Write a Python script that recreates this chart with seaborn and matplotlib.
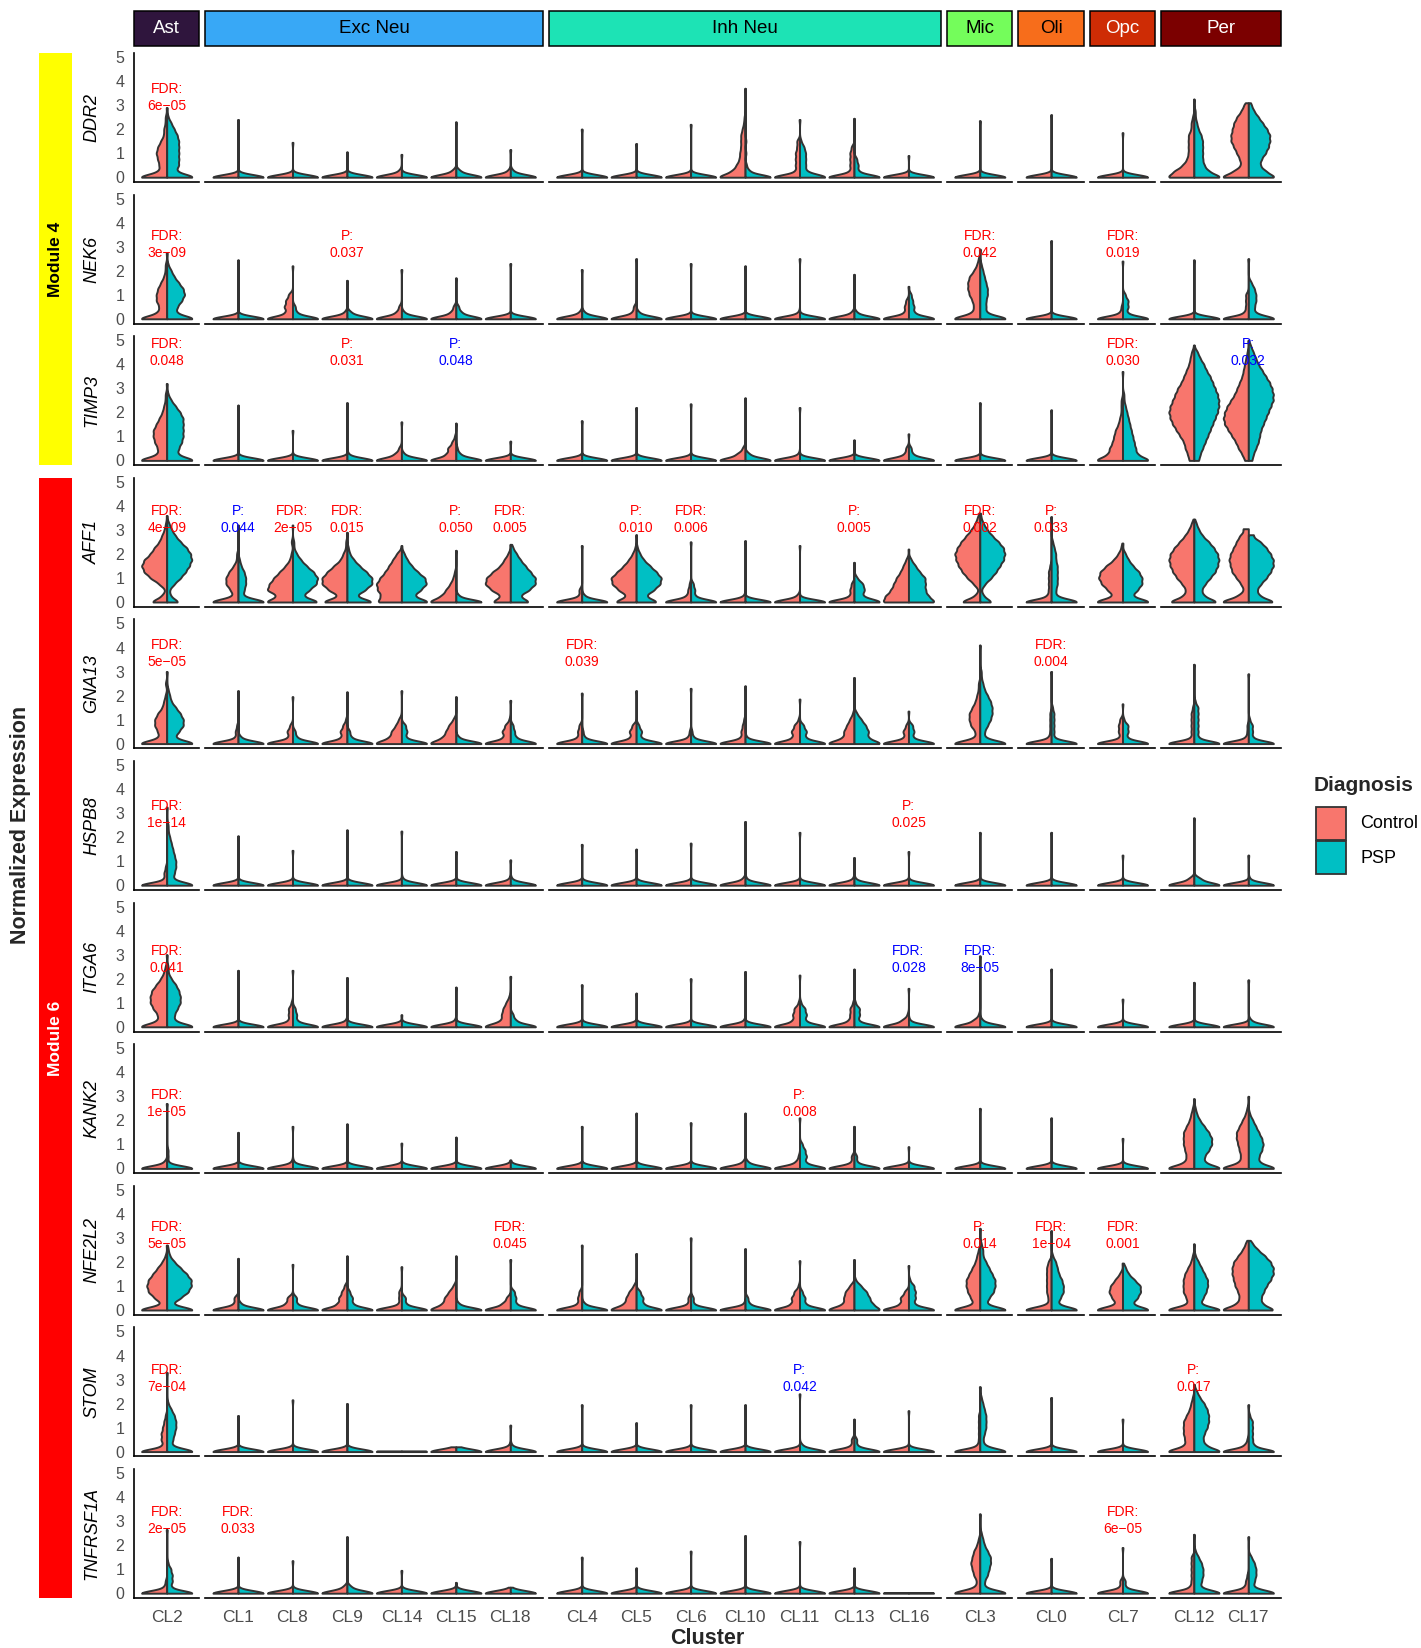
import numpy as np
import pandas as pd
import matplotlib
matplotlib.use("Agg")
import matplotlib.pyplot as plt
from matplotlib.patches import Rectangle
import seaborn as sns

sns.set_style("white")
plt.rcParams["font.family"] = ["Liberation Sans", "DejaVu Sans"]

W, H = 1421, 1648

# ---------------- data ----------------
CELLTYPES = ["Ast", "Exc Neu", "Inh Neu", "Mic", "Oli", "Opc", "Per"]
CELLTYPE_CLUSTERS = [["CL2"], ["CL1", "CL8", "CL9", "CL14", "CL15", "CL18"],
                     ["CL4", "CL5", "CL6", "CL10", "CL11", "CL13", "CL16"],
                     ["CL3"], ["CL0"], ["CL7"], ["CL12", "CL17"]]
CELLTYPE_COLORS = ["#2F153D", "#38A8F6", "#1DE3B5", "#74FD5B", "#F76D1B", "#CE2C05", "#7B0000"]
CELLTYPE_TEXT = ["white", "black", "black", "black", "black", "white", "white"]
CLUSTERS = [c for grp in CELLTYPE_CLUSTERS for c in grp]
GENES = ["DDR2", "NEK6", "TIMP3", "AFF1", "GNA13", "HSPB8", "ITGA6", "KANK2", "NFE2L2", "STOM", "TNFRSF1A"]
DIAGNOSES = ["Control", "PSP"]
DIAG_COLORS = ["#F8766D", "#00BFC4"]
MODULES = ["Module 4", "Module 6"]
MODULE_GENES = [3, 8]
MODULE_COLORS = ["#FFFF00", "#FF0000"]
MODULE_TEXT = ["black", "white"]

# Expression samples per violin ("value*count"), clusters in CLUSTERS order
DDR2_CONTROL = [
    "0*60 .25*15 .5*15 .75*18 1*21 1.25*18 1.5*12 1.75*6 2*6 2.25*3 2.5*3 2.9",
    "0*60 2.4", "0*60 1.45", "0*60 1.05", "0*60 .25*6 .95", "0*60 .25*9 2.3", "0*60 .25*6 1.15",
    "0*60 2.0", "0*60 1.4", "0*60 2.2",
    "0*60 .25*27 .5*18 .75*12 1*11 1.25*9 1.5*9 1.75*9 2*6 2.25*3 2.5*2 3.7",
    "0*60 .25*9 .5*9 .75*9 1*9 1.25*6 1.5*6 2.4",
    "0*60 .25*9 .5*9 .75*9 1*9 1.25*6 2.45",
    "0*60 .9", "0*60 2.35", "0*60 2.6", "0*60 1.85",
    "0*60 .25*42 .5*24 .75*15 1*12 1.25*12 1.5*12 1.75*12 2*6 2.25*6 2.5*3 3.25",
    "0*60 .25*30 .5*15 .75*18 1*24 1.25*30 1.5*36 1.75*36 2*33 2.25*30 2.5*24 2.75*15 3*9 3.1",
]
DDR2_PSP = [
    "0*60 .25*18 .5*24 .75*24 1*24 1.25*24 1.5*24 1.75*21 2*15 2.25*9 2.5*3 2.9",
    "0*60 2.4", "0*60 1.45", "0*60 1.05", "0*60 .95", "0*60 .25*9 2.3", "0*60 .25*6 1.15",
    "0*60 2.0", "0*60 1.4", "0*60 2.2",
    "0*60 .25*9 .5*3 1*2 1.5*2 3.7",
    "0*60 .25*12 .5*12 .75*12 1*12 1.25*9 1.5*3 2.4",
    "0*60 .25*9 .5*9 .75*6 2.45",
    "0*60 .9", "0*60 2.35", "0*60 2.6", "0*60 1.85",
    "0*60 .25*30 .5*21 .75*18 1*18 1.25*18 1.5*18 1.75*15 2*9 2.25*6 2.5*3 2.75*3 3.25",
    "0*60 .25*36 .5*24 .75*27 1*36 1.25*42 1.5*45 1.75*45 2*39 2.25*30 2.5*21 2.75*12 3*6 3.1",
]
NEK6_CONTROL = [
    "0*60 .25*18 .5*15 .75*21 1*21 1.25*18 1.5*12 1.75*6 2*3 2.25*3 2.75",
    "0*60 2.45", "0*60 .25*15 .5*18 .75*15 1*9 2.2", "0*60 .25*6 1.6", "0*60 .25*12 .5*6 2.05",
    "0*60 .25*12 .5*6 1.7", "0*60 2.3",
    "0*60 .25*6 2.05", "0*60 .25*9 .5*6 2.5", "0*60 2.3", "0*60 2.2", "0*60 .25*3 2.5", "0*60 .25*6 1.85",
    "0*60 .25*9 .5*9 .75*6 1.35",
    "0*60 .25*15 .5*12 .75*15 1*21 1.25*24 1.5*24 1.75*21 2*12 2.25*6 2.5*3 2.9",
    "0*60 3.25", "0*60 .25*6 .5*3 2.4", "0*60 2.45", "0*60 .25*9 .5*6 .75*6 1*6 2.5",
]
NEK6_PSP = [
    "0*60 .25*18 .5*21 .75*30 1*36 1.25*33 1.5*24 1.75*15 2*9 2.25*3 2.75",
    "0*60 2.45", "0*60 .25*9 .5*6 2.2", "0*60 .25*9 1.6", "0*60 .25*6 2.05",
    "0*60 .25*12 .5*6 1.7", "0*60 2.3",
    "0*60 .25*6 2.05", "0*60 .25*6 2.5", "0*60 2.3", "0*60 2.2", "0*60 2.5", "0*60 .25*6 1.85",
    "0*60 .25*12 .5*12 .75*9 1*6 1.35",
    "0*60 .25*12 .5*12 .75*12 1*15 1.25*15 1.5*12 1.75*9 2*6 2.25*3 2.9",
    "0*60 3.25", "0*60 .25*9 .5*12 .75*12 1*6 2.4", "0*60 2.45", "0*60 .25*12 .5*12 .75*15 1*15 1.25*12 1.5*6 2.5",
]
TIMP3_CONTROL = [
    "0*60 .25*18 .5*18 .75*24 1*27 1.25*27 1.5*21 1.75*15 2*9 2.25*6 2.5*3 2.75*3 3.2",
    "0*60 2.3", "0*60 1.25", "0*60 2.4", "0*60 .25*15 .5*6 1.6", "0*60 .25*21 .5*18 .75*9 1*3 1.55", "0*60 .8",
    "0*60 1.65", "0*60 2.2", "0*60 2.35", "0*60 .25*18 .5*6 2.6", "0*60 .25*3 2.2", "0*60 .85",
    "0*60 .25*9 .5*6 1.1",
    "0*60 2.4", "0*60 2.1",
    "0*60 .25*30 .5*27 .75*21 1*18 1.25*15 1.5*9 1.75*6 2*3 2.25*3 2.5*3 3.7",
    "0*12 .25*15 .5*21 .75*24 1*33 1.25*42 1.5*51 1.75*57 2*60 2.25*57 2.5*51 2.75*45 3*39 3.25*30 3.5*24 3.75*18 4*12 4.25*9 4.5*6 4.8",
    "0*9 .25*15 .5*24 .75*30 1*39 1.25*48 1.5*57 1.75*60 2*57 2.25*51 2.5*42 2.75*33 3*27 3.25*21 3.5*15 3.75*12 4*9 4.25*6 4.5*3 5.0",
]
TIMP3_PSP = [
    "0*60 .25*21 .5*24 .75*30 1*33 1.25*33 1.5*33 1.75*33 2*27 2.25*18 2.5*9 2.75*3 3.2",
    "0*60 2.3", "0*60 1.25", "0*60 .25*3 2.4", "0*60 .25*6 1.6", "0*60 .25*9 .5*3 1.55", "0*60 .8",
    "0*60 1.65", "0*60 2.2", "0*60 2.35", "0*60 .25*9 2.6", "0*60 2.2", "0*60 .85",
    "0*60 .25*9 .5*6 1.1",
    "0*60 2.4", "0*60 2.1",
    "0*60 .25*30 .5*27 .75*24 1*21 1.25*18 1.5*15 1.75*12 2*9 2.25*6 2.5*3 2.75*3 3.7",
    "0*12 .25*15 .5*21 .75*27 1*33 1.25*39 1.5*45 1.75*51 2*57 2.25*60 2.5*60 2.75*57 3*51 3.25*45 3.5*39 3.75*30 4*24 4.25*15 4.5*9 4.8",
    "0*9 .25*12 .5*18 .75*24 1*27 1.25*30 1.5*36 1.75*42 2*48 2.25*54 2.5*60 2.75*60 3*57 3.25*51 3.5*42 3.75*33 4*24 4.25*18 4.5*12 4.75*6 5.0",
]
AFF1_CONTROL = [
    "0*39 .25*12 .5*3 .75*18 1*39 1.25*54 1.5*60 1.75*54 2*39 2.25*30 2.5*18 2.75*12 3*6 3.25*3 3.6",
    "0*60 .25*9 .5*15 .75*24 1*24 1.25*18 1.5*9 1.75*3 2*3 3.2",
    "0*60 .25*30 .5*54 .75*48 1*39 1.25*27 1.5*15 1.75*6 2*3 2.5*3 3.2",
    "0*60 .25*18 .5*42 .75*57 1*57 1.25*45 1.5*30 1.75*15 2*9 2.25*3 2.5*3 2.9",
    "0*60 .25*48 .5*57 .75*60 1*51 1.25*39 1.5*30 1.75*21 2*12 2.35",
    "0*60 .25*30 .5*21 .75*12 1*6 1.25*3 2.15",
    "0*45 .25*21 .5*45 .75*60 1*57 1.25*42 1.5*24 1.75*15 2*6 2.4",
    "0*60 .25*6 .5*6 2.35",
    "0*54 .25*21 .5*42 .75*57 1*60 1.25*45 1.5*30 1.75*18 2*9 2.25*3 2.8",
    "0*60 .25*9 .5*6 .75*3 2.5",
    "0*60 .25*3 2.55", "0*60 .25*6 2.35", "0*60 .25*9 .5*9 .75*6 1.65",
    "0*60 .25*51 .5*39 .75*33 1*27 1.25*18 1.5*12 1.75*6 2.2",
    "0*48 .25*12 .5*3 .75*15 1*30 1.25*42 1.5*51 1.75*57 2*60 2.25*54 2.5*45 2.75*33 3*21 3.25*12 3.5*6 3.7",
    "0*60 .25*9 .5*6 .75*6 1*6 1.25*6 1.5*3 3.55",
    "0*60 .25*18 .5*30 .75*42 1*48 1.25*45 1.5*33 1.75*18 2*9 2.25*3 2.45",
    "0*60 .25*24 .5*18 .75*27 1*39 1.25*48 1.5*54 1.75*57 2*54 2.25*45 2.5*33 2.75*21 3*12 3.25*6 3.45",
    "0*60 .25*21 .5*9 .75*15 1*24 1.25*33 1.5*36 1.75*39 2*36 2.25*30 2.5*24 2.75*18 3.05*12",
]
AFF1_PSP = [
    "0*30 .25*9 .5*6 .75*18 1*33 1.25*45 1.5*54 1.75*60 2*57 2.25*48 2.5*33 2.75*21 3*12 3.25*6 3.6",
    "0*60 .25*9 .5*12 .75*15 1*15 1.25*12 1.5*6 1.75*3 3.2",
    "0*60 .25*21 .5*36 .75*51 1*54 1.25*45 1.5*30 1.75*18 2*9 2.25*3 2.5*3 3.2",
    "0*60 .25*18 .5*39 .75*54 1*54 1.25*42 1.5*27 1.75*15 2*6 2.25*3 2.9",
    "0*60 .25*24 .5*39 .75*51 1*48 1.25*33 1.5*21 1.75*12 2*6 2.35",
    "0*60 .25*6 2.15",
    "0*48 .25*21 .5*45 .75*60 1*60 1.25*48 1.5*36 1.75*24 2*15 2.25*6 2.4",
    "0*60 .25*6 2.35",
    "0*54 .25*21 .5*42 .75*57 1*60 1.25*48 1.5*33 1.75*18 2*9 2.25*3 2.8",
    "0*60 .25*9 .5*9 .75*6 2.5",
    "0*60 2.55", "0*60 2.35", "0*60 .25*15 .5*21 .75*18 1*6 1.65",
    "0*60 .25*42 .5*36 .75*36 1*36 1.25*24 1.5*15 1.75*6 2.2",
    "0*30 .25*9 .5*3 .75*12 1*27 1.25*39 1.5*48 1.75*57 2*60 2.25*57 2.5*45 2.75*30 3*18 3.25*9 3.5*3 3.7",
    "0*60 .25*9 .5*9 .75*12 1*12 1.25*12 1.5*12 1.75*9 2*9 2.25*6 2.5*3 3.55",
    "0*60 .25*18 .5*30 .75*39 1*39 1.25*33 1.5*21 1.75*12 2*6 2.45",
    "0*60 .25*24 .5*18 .75*27 1*39 1.25*51 1.5*57 1.75*60 2*57 2.25*48 2.5*36 2.75*21 3*12 3.25*6 3.45",
    "0*60 .25*24 .5*18 .75*27 1*39 1.25*48 1.5*54 1.75*54 2*48 2.25*39 2.5*27 2.8*12",
]
GNA13_CONTROL = [
    "0*60 .25*15 .5*18 .75*24 1*24 1.25*18 1.5*9 1.75*6 2*3 2.5*3 3.0",
    "0*60 .25*6 .5*6 .75*3 2.2", "0*60 .25*9 .5*12 .75*6 1.95", "0*60 .25*12 .5*15 .75*9 1*3 2.15",
    "0*60 .25*24 .5*21 .75*12 1*6 2.2", "0*60 .25*27 .5*21 .75*15 1*6 1.95", "0*60 .25*15 .5*18 .75*12 1*3 1.8",
    "0*60 .25*9 .5*9 .75*6 2.1", "0*60 .25*12 .5*15 .75*9 2.2", "0*60 .25*6 .5*3 2.3",
    "0*60 .25*9 .5*9 .75*6 1*3 2.4", "0*60 .25*15 .5*18 .75*12 1*3 1.85", "0*60 .25*21 .5*21 .75*15 1*9 1.25*3 2.75",
    "0*60 .25*9 .5*12 .75*6 1.35",
    "0*60 .25*9 .5*9 .75*18 1*21 1.25*21 1.5*15 1.75*9 2*6 2.25*3 2.5*3 4.1",
    "0*60 .25*6 .5*3 .75*3 1*3 1.25*3 3.0", "0*60 .25*6 .5*9 .75*9 1*6 1.65",
    "0*60 .25*6 .5*6 .75*6 1*6 1.25*6 1.5*3 3.3", "0*60 .25*6 .5*3 .75*3 2.9",
]
GNA13_PSP = [
    "0*60 .25*15 .5*24 .75*33 1*33 1.25*27 1.5*18 1.75*9 2*6 2.25*3 3.0",
    "0*60 .25*6 2.2", "0*60 .25*9 .5*6 1.95", "0*60 .25*9 .5*6 2.15",
    "0*60 .25*9 .5*12 .75*9 2.2", "0*60 .25*6 1.95", "0*60 .25*12 .5*9 .75*6 1.8",
    "0*60 .25*6 .5*3 2.1", "0*60 .25*9 .5*12 .75*6 2.2", "0*60 .25*6 .5*3 2.3",
    "0*60 .25*3 2.4", "0*60 .25*12 .5*15 .75*9 1.85", "0*60 .25*27 .5*30 .75*24 1*15 1.25*6 2.75",
    "0*60 .25*9 .5*12 .75*9 1.35",
    "0*60 .25*9 .5*9 .75*15 1*21 1.25*24 1.5*24 1.75*21 2*15 2.25*9 2.5*6 2.75*3 3*3 4.1",
    "0*60 .25*6 .5*6 .75*6 1*6 1.25*6 1.5*3 3.0", "0*60 .25*9 .5*12 .75*12 1*3 1.65",
    "0*60 .25*9 .5*9 .75*9 1*9 1.25*9 1.5*9 1.75*3 3.3", "0*60 .25*9 .5*9 .75*9 1*3 2.9",
]
HSPB8_CONTROL = [
    "0*60 .25*6 .5*6 .75*3 3.25",
    "0*60 2.05", "0*60 1.45", "0*60 2.3", "0*60 2.25", "0*60 1.4", "0*60 .25*3 1.05",
    "0*60 1.7", "0*60 1.5", "0*60 1.75", "0*60 .25*6 2.65", "0*60 2.2", "0*60 .25*3 1.15", "0*60 1.4",
    "0*60 2.2", "0*60 2.2", "0*60 1.25", "0*60 .25*12 2.8", "0*60 1.25",
]
HSPB8_PSP = [
    "0*60 .25*12 .5*15 .75*18 1*18 1.25*15 1.5*12 1.75*9 2*6 2.25*3 2.5*3 3.25",
    "0*60 2.05", "0*60 1.45", "0*60 2.3", "0*60 .25*3 2.25", "0*60 1.4", "0*60 .25*3 1.05",
    "0*60 1.7", "0*60 1.5", "0*60 1.75", "0*60 .25*3 2.65", "0*60 2.2", "0*60 .25*3 1.15", "0*60 1.4",
    "0*60 2.2", "0*60 2.2", "0*60 1.25", "0*60 .25*15 2.8", "0*60 .25*3 1.25",
]
ITGA6_CONTROL = [
    "0*60 .25*18 .5*18 .75*27 1*33 1.25*33 1.5*30 1.75*21 2*12 2.25*6 2.5*3 3.0",
    "0*60 2.35", "0*60 .25*9 .5*9 .75*9 1*3 2.35", "0*60 .25*3 2.05", "0*60 .5", "0*60 .25*3 1.65",
    "0*60 .25*18 .5*18 .75*15 1*9 1.25*3 2.1",
    "0*60 1.75", "0*60 1.4", "0*60 2.0", "0*60 .25*3 2.3", "0*60 .25*15 .5*15 .75*12 1*3 2.15",
    "0*60 .25*12 .5*9 .75*9 1*3 2.4", "0*60 .25*15 .5*3 1.6",
    "0*60 .25*15 .5*3 2.95", "0*60 2.4", "0*60 1.15", "0*60 1.85", "0*60 1.95",
]
ITGA6_PSP = [
    "0*60 .25*15 .5*15 .75*21 1*27 1.25*27 1.5*24 1.75*18 2*9 2.25*3 2.5*3 3.0",
    "0*60 2.35", "0*60 .25*9 .5*9 .75*6 2.35", "0*60 2.05", "0*60 .5", "0*60 1.65",
    "0*60 .25*12 .5*6 2.1",
    "0*60 1.75", "0*60 1.4", "0*60 2.0", "0*60 2.3", "0*60 .25*12 .5*15 .75*12 1*3 2.15",
    "0*60 .25*9 .5*12 .75*12 1*3 2.4", "0*60 .25*3 1.6",
    "0*60 .25*6 2.95", "0*60 2.4", "0*60 1.15", "0*60 1.85", "0*60 .25*6 1.95",
]
KANK2_CONTROL = [
    "0*60 .25*6 2.7",
    "0*60 1.5", "0*60 .25*3 1.75", "0*60 1.85", "0*60 1.05", "0*60 1.3", "0*60 .35",
    "0*60 1.75", "0*60 2.3", "0*60 1.9", "0*60 .25*6 2.3", "0*60 .25*9 .5*3 2.1", "0*60 .25*6 .5*6 1.75",
    "0*60 .9", "0*60 2.5", "0*60 2.1", "0*60 1.25",
    "0*60 .25*18 .5*15 .75*18 1*21 1.25*21 1.5*21 1.75*15 2*9 2.25*6 2.5*3 2.9",
    "0*60 .25*18 .5*15 .75*18 1*21 1.25*24 1.5*24 1.75*18 2*12 2.25*6 2.5*3 3.0",
]
KANK2_PSP = [
    "0*60 .25*3 .5*3 .75*3 2.7",
    "0*60 1.5", "0*60 .25*3 1.75", "0*60 1.85", "0*60 1.05", "0*60 1.3", "0*60 .35",
    "0*60 1.75", "0*60 2.3", "0*60 1.9", "0*60 .25*6 2.3", "0*60 .25*12 .5*15 .75*12 1*6 2.1",
    "0*60 .25*6 .5*6 1.75", "0*60 .9", "0*60 2.5", "0*60 2.1", "0*60 1.25",
    "0*60 .25*21 .5*21 .75*30 1*36 1.25*36 1.5*30 1.75*21 2*12 2.25*6 2.5*3 2.9",
    "0*60 .25*21 .5*21 .75*27 1*30 1.25*27 1.5*21 1.75*15 2*9 2.25*3 3.0",
]
NFE2L2_CONTROL = [
    "0*60 .25*9 .5*24 .75*36 1*39 1.25*36 1.5*27 1.75*18 2*9 2.25*3 2.7",
    "0*60 .25*9 .5*9 2.15", "0*60 .25*15 .5*12 1.9", "0*60 .25*21 .5*18 .75*12 1*6 2.25",
    "0*60 .25*6 .5*6 .75*6 1.8", "0*60 .25*27 .5*24 .75*15 1*6 2.25", "0*60 .25*18 .5*9 2.1",
    "0*60 .25*9 .5*9 .75*6 2.7", "0*60 .25*24 .5*21 .75*15 1*6 2.35", "0*60 .25*6 .5*6 3.0",
    "0*60 .25*3 2.55", "0*60 .25*18 .5*18 .75*12 1*3 2.05", "0*60 .25*21 .5*21 .75*18 1*9 2.1",
    "0*60 .25*18 .5*18 .75*9 1.85",
    "0*60 .25*12 .5*18 .75*24 1*27 1.25*27 1.5*21 1.75*15 2*9 2.25*6 2.5*3 3.4",
    "0*60 .25*6 .5*6 .75*9 1*9 1.25*9 1.5*9 1.75*9 2*6 3.3",
    "0*60 .25*12 .5*21 .75*27 1*24 1.25*15 1.5*6 1.95",
    "0*60 .25*12 .5*15 .75*21 1*21 1.25*21 1.5*18 1.75*12 2*6 2.25*3 2.75",
    "0*60 .25*24 .5*18 .75*21 1*27 1.25*30 1.5*33 1.75*33 2*30 2.25*21 2.5*12 2.75*6 2.9",
]
NFE2L2_PSP = [
    "0*60 .25*9 .5*27 .75*42 1*48 1.25*48 1.5*39 1.75*27 2*15 2.25*6 2.5*3 2.7",
    "0*60 .25*6 2.15", "0*60 .25*9 .5*9 1.9", "0*60 .25*12 .5*12 .75*6 2.25",
    "0*60 .25*9 .5*9 1.8", "0*60 .25*6 2.25", "0*60 .25*12 .5*12 .75*9 2.1",
    "0*60 .25*6 2.7", "0*60 .25*15 .5*15 .75*9 2.35", "0*60 .25*6 .5*6 3.0",
    "0*60 .25*9 .5*6 2.55", "0*60 .25*12 .5*12 .75*6 2.05", "0*60 .25*39 .5*33 .75*27 1*15 1.25*3 2.1",
    "0*60 .25*12 .5*15 .75*15 1*12 1.25*3 1.85",
    "0*60 .25*12 .5*18 .75*27 1*30 1.25*30 1.5*24 1.75*18 2*12 2.25*6 2.5*6 2.75*3 3.4",
    "0*60 .25*12 .5*18 .75*24 1*24 1.25*21 1.5*15 1.75*12 2*9 2.25*3 3.3",
    "0*60 .25*18 .5*30 .75*36 1*36 1.25*24 1.5*12 1.75*6 1.95",
    "0*60 .25*12 .5*18 .75*24 1*27 1.25*27 1.5*21 1.75*15 2*9 2.25*3 2.75",
    "0*60 .25*30 .5*27 .75*33 1*39 1.25*48 1.5*54 1.75*54 2*48 2.25*36 2.5*21 2.75*9 2.9",
]
STOM_CONTROL = [
    "0*60 .25*9 .5*12 .75*12 1*9 1.25*6 1.5*3 3.3",
    "0*60 1.5", "0*60 2.15", "0*60 2.0", "0*60 .03", "0*60 .2", "0*60 .25*3 1.1",
    "0*60 1.95", "0*60 1.2", "0*60 1.95", "0*60 1.95", "0*60 2.4", "0*60 .25*6 .5*6 1.35", "0*60 1.7",
    "0*60 .25*6 .5*3 .75*3 1*3 1.25*3 1.5*3 2.7", "0*60 2.25", "0*60 1.35",
    "0*60 .25*18 .5*18 .75*21 1*21 1.25*21 1.5*15 1.75*9 2*6 2.25*3 2.8",
    "0*60 .25*9 .5*3 1.95",
]
STOM_PSP = [
    "0*60 .25*9 .5*12 .75*15 1*18 1.25*18 1.5*15 1.75*9 2*3 3.3",
    "0*60 1.5", "0*60 2.15", "0*60 2.0", "0*60 .03", "0*60 .2", "0*60 .25*3 1.1",
    "0*60 1.95", "0*60 1.2", "0*60 1.95", "0*60 1.95", "0*60 .25*6 2.4", "0*60 .25*6 .5*6 1.35", "0*60 1.7",
    "0*60 .25*9 .5*6 .75*9 1*12 1.25*12 1.5*12 1.75*9 2*6 2.25*3 2.7", "0*60 2.25", "0*60 1.35",
    "0*60 .25*24 .5*18 .75*21 1*27 1.25*30 1.5*30 1.75*27 2*21 2.25*12 2.5*6 2.8",
    "0*60 .25*12 .5*9 .75*9 1*9 1.25*9 1.5*3 1.95",
]
TNFRSF1A_CONTROL = [
    "0*60 .25*6 .5*3 2.65",
    "0*60 1.5", "0*60 1.35", "0*60 .25*9 2.35", "0*60 .95", "0*60 .45", "0*60 .25",
    "0*60 1.5", "0*60 1.05", "0*60 1.75", "0*60 2.4", "0*60 2.15", "0*60 1.05", "0*60 .03",
    "0*60 .25*9 .5*6 .75*12 1*15 1.25*18 1.5*15 1.75*12 2*6 2.25*3 3.3",
    "0*60 1.45", "0*60 .25*6 .5*6 1.9",
    "0*60 .25*9 .5*6 .75*6 1*6 1.25*6 1.5*6 2.45",
    "0*60 .25*9 .5*6 .75*3 2.35",
]
TNFRSF1A_PSP = [
    "0*60 .25*9 .5*12 .75*12 1*9 1.25*3 2.65",
    "0*60 1.5", "0*60 1.35", "0*60 .25*9 2.35", "0*60 .95", "0*60 .45", "0*60 .25",
    "0*60 1.5", "0*60 1.05", "0*60 1.75", "0*60 2.4", "0*60 2.15", "0*60 1.05", "0*60 .03",
    "0*60 .25*9 .5*9 .75*15 1*18 1.25*21 1.5*21 1.75*15 2*9 2.25*6 2.5*3 3.3",
    "0*60 1.45", "0*60 .25*6 .5*6 1.9",
    "0*60 .25*12 .5*15 .75*18 1*18 1.25*15 1.5*9 1.75*3 2.45",
    "0*60 .25*9 .5*12 .75*15 1*15 1.25*12 1.5*6 2.35",
]
GENE_SAMPLES = {
    "DDR2": (DDR2_CONTROL, DDR2_PSP), "NEK6": (NEK6_CONTROL, NEK6_PSP),
    "TIMP3": (TIMP3_CONTROL, TIMP3_PSP), "AFF1": (AFF1_CONTROL, AFF1_PSP),
    "GNA13": (GNA13_CONTROL, GNA13_PSP), "HSPB8": (HSPB8_CONTROL, HSPB8_PSP),
    "ITGA6": (ITGA6_CONTROL, ITGA6_PSP), "KANK2": (KANK2_CONTROL, KANK2_PSP),
    "NFE2L2": (NFE2L2_CONTROL, NFE2L2_PSP), "STOM": (STOM_CONTROL, STOM_PSP),
    "TNFRSF1A": (TNFRSF1A_CONTROL, TNFRSF1A_PSP),
}

# significance labels
ANNOT_Y = [3.33, 3.09, 4.5, 3.42, 3.74, 2.95, 2.79, 2.7, 3.1, 3.03, 3.03]
ANNOT_GENES = ["DDR2",
               "NEK6", "NEK6", "NEK6", "NEK6",
               "TIMP3", "TIMP3", "TIMP3", "TIMP3", "TIMP3",
               "AFF1", "AFF1", "AFF1", "AFF1", "AFF1", "AFF1", "AFF1", "AFF1", "AFF1", "AFF1", "AFF1",
               "GNA13", "GNA13", "GNA13",
               "HSPB8", "HSPB8",
               "ITGA6", "ITGA6", "ITGA6",
               "KANK2", "KANK2",
               "NFE2L2", "NFE2L2", "NFE2L2", "NFE2L2", "NFE2L2",
               "STOM", "STOM", "STOM",
               "TNFRSF1A", "TNFRSF1A", "TNFRSF1A"]
ANNOT_CLUSTERS = ["CL2",
                  "CL2", "CL9", "CL3", "CL7",
                  "CL2", "CL9", "CL15", "CL7", "CL17",
                  "CL2", "CL1", "CL8", "CL9", "CL15", "CL18", "CL5", "CL6", "CL13", "CL3", "CL0",
                  "CL2", "CL4", "CL0",
                  "CL2", "CL16",
                  "CL2", "CL16", "CL3",
                  "CL2", "CL11",
                  "CL2", "CL18", "CL3", "CL0", "CL7",
                  "CL2", "CL11", "CL12",
                  "CL2", "CL1", "CL7"]
ANNOT_LABELS = ["FDR:\n6e\u221205",
                "FDR:\n3e\u221209", "P:\n0.037", "FDR:\n0.042", "FDR:\n0.019",
                "FDR:\n0.048", "P:\n0.031", "P:\n0.048", "FDR:\n0.030", "P:\n0.032",
                "FDR:\n4e\u221209", "P:\n0.044", "FDR:\n2e\u221205", "FDR:\n0.015", "P:\n0.050",
                "FDR:\n0.005", "P:\n0.010", "FDR:\n0.006", "P:\n0.005", "FDR:\n0.002", "P:\n0.033",
                "FDR:\n5e\u221205", "FDR:\n0.039", "FDR:\n0.004",
                "FDR:\n1e\u221214", "P:\n0.025",
                "FDR:\n0.041", "FDR:\n0.028", "FDR:\n8e\u221205",
                "FDR:\n1e\u221205", "P:\n0.008",
                "FDR:\n5e\u221205", "FDR:\n0.045", "P:\n0.014", "FDR:\n1e\u221204", "FDR:\n0.001",
                "FDR:\n7e\u221204", "P:\n0.042", "P:\n0.017",
                "FDR:\n2e\u221205", "FDR:\n0.033", "FDR:\n6e\u221205"]
ANNOT_COLORS = ["red",
                "red", "red", "red", "red",
                "red", "red", "blue", "red", "blue",
                "red", "blue", "red", "red", "red", "red", "red", "red", "red", "red", "red",
                "red", "red", "red",
                "red", "red",
                "red", "blue", "blue",
                "red", "red",
                "red", "red", "red", "red", "red",
                "red", "blue", "red",
                "red", "red", "red"]


def parse_samples(spec):
    out = []
    for tok in spec.split():
        if "*" in tok:
            v, c = tok.split("*")
            out += [float(v)] * int(c)
        else:
            out.append(float(tok))
    return out


rows = []
for g in GENES:
    for d, specs in zip(DIAGNOSES, GENE_SAMPLES[g]):
        for cl, spec in zip(CLUSTERS, specs):
            for v in parse_samples(spec):
                rows.append((g, cl, d, v))
df = pd.DataFrame(rows, columns=["Gene", "Cluster", "Diagnosis", "Expr"])


def kde_bandwidth(kde):
    # kernel width in data units: narrower for mostly-zero cells, wider for expressed bodies
    data = np.asarray(kde.dataset).ravel()
    target = 0.11 if np.mean(data == 0) >= 0.5 else 0.125
    sd = np.std(data, ddof=1)
    return target / sd if sd > 0 else 1.0


# ---------------- figure ----------------
fig = plt.figure(figsize=(W / 100, H / 100), dpi=100)
nrow, ncol = len(GENES), len(CELLTYPES)
gs = fig.add_gridspec(nrow, ncol, left=134 / W, right=1281 / W, top=1 - 53 / H, bottom=1 - 1598 / H,
                      width_ratios=[len(c) + 0.2 for c in CELLTYPE_CLUSTERS],
                      hspace=0.0977, wspace=0.0378)
pal = dict(zip(DIAGNOSES, DIAG_COLORS))
axes = [[None] * ncol for _ in range(nrow)]
for r, g in enumerate(GENES):
    for c, ct in enumerate(CELLTYPES):
        ax = fig.add_subplot(gs[r, c])
        axes[r][c] = ax
        order = CELLTYPE_CLUSTERS[c]
        sub = df[(df.Gene == g) & (df.Cluster.isin(order))]
        sns.violinplot(data=sub, x="Cluster", y="Expr", hue="Diagnosis", order=order,
                       hue_order=DIAGNOSES, palette=pal, split=True, inner=None, cut=0,
                       density_norm="width", common_norm=False, bw_method=kde_bandwidth,
                       gridsize=160, width=0.92, linewidth=1.4, linecolor="#333333", saturation=1,
                       legend=False, ax=ax)
        ax.set_xlim(-0.6, len(order) - 0.4)
        ax.set_ylim(-0.2, 5.17)
        ax.set_xlabel("")
        ax.set_ylabel("")
        for s in ["top", "right"]:
            ax.spines[s].set_visible(False)
        ax.spines["bottom"].set_color("black")
        ax.spines["bottom"].set_linewidth(1.2)
        if c == 0:
            ax.spines["left"].set_color("black")
            ax.spines["left"].set_linewidth(1.2)
            ax.set_yticks([0, 1, 2, 3, 4, 5])
            ax.tick_params(axis="y", length=0, pad=7, labelsize=11.5, labelcolor="#4D4D4D")
        else:
            ax.spines["left"].set_visible(False)
            ax.set_yticks([])
        if r == nrow - 1:
            ax.tick_params(axis="x", length=3.5, width=0.9, color="#333333", pad=5,
                           labelsize=12.5, labelcolor="#4D4D4D")
        else:
            ax.tick_params(axis="x", bottom=False, labelbottom=False)
        for ag, acl, alab, acol in zip(ANNOT_GENES, ANNOT_CLUSTERS, ANNOT_LABELS, ANNOT_COLORS):
            if ag == g and acl in order:
                ax.text(order.index(acl), ANNOT_Y[r], alab, ha="center", va="center",
                        color=acol, fontsize=10, linespacing=1.25)

# gene labels
for r, g in enumerate(GENES):
    pos = axes[r][0].get_position()
    fig.text(92 / W, (pos.y0 + pos.y1) / 2, g, rotation=90, ha="center", va="center",
             fontsize=13, style="italic", color="black")

# strips
for c, ct in enumerate(CELLTYPES):
    pos = axes[0][c].get_position()
    y0, y1 = 1 - 46 / H, 1 - 11 / H
    fig.add_artist(Rectangle((pos.x0, y0), pos.width, y1 - y0, transform=fig.transFigure,
                             facecolor=CELLTYPE_COLORS[c], edgecolor="black", linewidth=1.1))
    fig.text(pos.x0 + pos.width / 2, (y0 + y1) / 2, ct, ha="center", va="center",
             fontsize=13.5, color=CELLTYPE_TEXT[c])

# module bars
start = 0
for m, (mname, ng) in enumerate(zip(MODULES, MODULE_GENES)):
    top = axes[start][0].get_position().y1
    bot = axes[start + ng - 1][0].get_position().y0
    fig.add_artist(Rectangle((39 / W, bot), 33 / W, top - bot, transform=fig.transFigure,
                             facecolor=MODULE_COLORS[m], edgecolor="none"))
    fig.text(55.5 / W, (top + bot) / 2, mname, rotation=90, ha="center", va="center",
             fontsize=12.5, fontweight="bold", color=MODULE_TEXT[m])
    start += ng

# axis titles
fig.text(21 / W, 1 - 825 / H, "Normalized Expression", rotation=90, ha="center", va="center",
         fontsize=15.5, fontweight="bold")
fig.text(707 / W, 1 - 1638 / H, "Cluster", ha="center", va="center", fontsize=15.5, fontweight="bold")

# legend
fig.text(1314 / W, 1 - 786 / H, "Diagnosis", ha="left", va="center", fontsize=15, fontweight="bold")
for i, (d, col) in enumerate(zip(DIAGNOSES, DIAG_COLORS)):
    ytop = 807 + 34 * i
    fig.add_artist(Rectangle((1316 / W, 1 - (ytop + 33) / H), 30 / W, 33 / H, transform=fig.transFigure,
                             facecolor=col, edgecolor="#333333", linewidth=1.3))
    fig.text(1360 / W, 1 - (ytop + 17) / H, d, ha="left", va="center", fontsize=13, color="black")

fig.savefig("out.png", dpi=100)
